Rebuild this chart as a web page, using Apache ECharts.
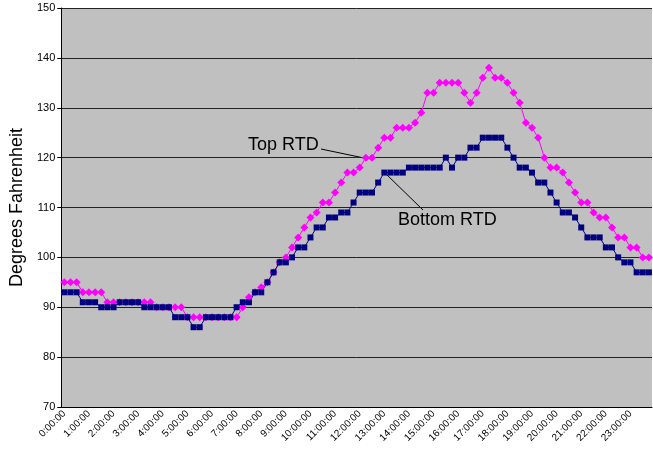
<!DOCTYPE html>
<html>
<head>
<meta charset="utf-8">
<script src="https://cdn.jsdelivr.net/npm/echarts@6/dist/echarts.min.js"></script>
<style>
  html, body { margin: 0; padding: 0; background: #fff; }
  #chart { width: 653px; height: 457px; }
</style>
</head>
<body>
<div id="chart"></div>
<script>
// 15 minute readings over one day
const times = []
for (let h = 0; h < 24; h++) {
  for (let m = 0; m < 60; m += 15) {
    times.push(h + ':' + (m < 10 ? '0' + m : m) + ':00')
  }
}

const topRtd = [
  95, 95, 95, 93, 93, 93, 93, 91, 91, 91, 91, 91, 91, 91, 91, 90,
  90, 90, 90, 90, 88, 88, 88, 88, 88, 88, 88, 88, 88, 90, 92, 93,
  94, 95, 97, 99, 100, 102, 104, 106, 108, 109, 111, 111, 113, 115, 117, 117,
  118, 120, 120, 122, 124, 124, 126, 126, 126, 127, 129, 133, 133, 135, 135, 135,
  135, 133, 131, 133, 136, 138, 136, 136, 135, 133, 131, 127, 126, 124, 120, 118,
  118, 117, 115, 113, 111, 111, 109, 108, 108, 106, 104, 104, 102, 102, 100, 100
]

const bottomRtd = [
  93, 93, 93, 91, 91, 91, 90, 90, 90, 91, 91, 91, 91, 90, 90, 90,
  90, 90, 88, 88, 88, 86, 86, 88, 88, 88, 88, 88, 90, 91, 91, 93,
  93, 95, 97, 99, 99, 100, 102, 102, 104, 106, 106, 108, 108, 109, 109, 111,
  113, 113, 113, 115, 117, 117, 117, 117, 118, 118, 118, 118, 118, 118, 120, 118,
  120, 120, 122, 122, 124, 124, 124, 124, 122, 120, 118, 118, 117, 115, 115, 113,
  111, 109, 109, 108, 106, 104, 104, 104, 102, 102, 100, 99, 99, 97, 97, 97
]

const yTicks = { min: 70, max: 150, interval: 10 }

const font = 'Liberation Sans, Arial, sans-serif'

const chart = echarts.init(document.getElementById('chart'))

chart.setOption({
  animation: false,
  grid: {
    left: 60,
    right: 1,
    top: 8,
    bottom: 50,
    show: true,
    backgroundColor: '#C0C0C0',
    borderWidth: 0
  },
  xAxis: {
    type: 'category',
    data: times,
    boundaryGap: true,
    axisLine: { lineStyle: { color: '#000', width: 1 } },
    axisTick: { interval: 0, length: 4, lineStyle: { color: '#000' } },
    axisLabel: {
      interval: 3,
      rotate: 45,
      fontSize: 10,
      fontFamily: font,
      color: '#000',
      margin: 5
    },
    splitLine: { show: false }
  },
  yAxis: {
    type: 'value',
    min: yTicks.min,
    max: yTicks.max,
    interval: yTicks.interval,
    name: 'Degrees Fahrenheit',
    nameLocation: 'middle',
    nameGap: 33,
    nameTextStyle: { fontSize: 18, fontFamily: font, color: '#000' },
    axisLine: { show: true, lineStyle: { color: '#000', width: 1 } },
    axisTick: { show: true, length: 4, lineStyle: { color: '#000' } },
    axisLabel: { fontSize: 11, fontFamily: font, color: '#000', margin: 6 },
    splitLine: { show: true, lineStyle: { color: '#222', width: 1 } }
  },
  series: [
    {
      name: 'Top RTD',
      type: 'line',
      data: topRtd,
      symbol: 'diamond',
      symbolSize: 8,
      showAllSymbol: true,
      lineStyle: { color: '#FF00FF', width: 1 },
      itemStyle: { color: '#FF00FF' }
    },
    {
      name: 'Bottom RTD',
      type: 'line',
      data: bottomRtd,
      symbol: 'rect',
      symbolSize: 6,
      showAllSymbol: true,
      lineStyle: { color: '#000080', width: 1 },
      itemStyle: { color: '#000080' }
    }
  ],
  // series labels with leader lines
  graphic: [
    {
      type: 'text',
      left: 248,
      top: 136,
      style: { text: 'Top RTD', fontSize: 18, fontFamily: font, fill: '#000' }
    },
    {
      type: 'line',
      shape: { x1: 321, y1: 149, x2: 364, y2: 158 },
      style: { stroke: '#000', lineWidth: 1 }
    },
    {
      type: 'text',
      left: 398,
      top: 211,
      style: { text: 'Bottom RTD', fontSize: 18, fontFamily: font, fill: '#000' }
    },
    {
      type: 'line',
      shape: { x1: 384, y1: 172, x2: 423, y2: 210 },
      style: { stroke: '#000', lineWidth: 1 }
    }
  ]
})
</script>
</body>
</html>
